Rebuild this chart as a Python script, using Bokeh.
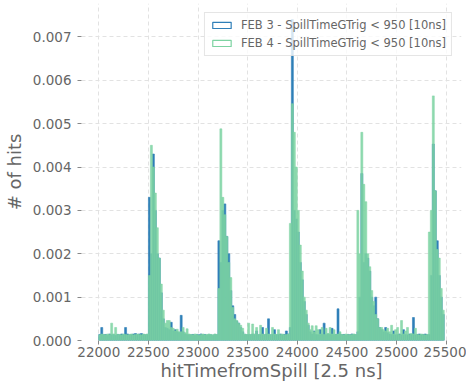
import numpy as np
from bokeh.plotting import figure
from bokeh.models import (Range1d, FixedTicker, NumeralTickFormatter, Legend,
                          LegendItem, ColumnDataSource)
from bokeh.embed import file_html
from bokeh.resources import INLINE

# ---------------- data ----------------
bin_start = 22000          # first bin edge [2.5 ns]
bin_width = 20             # bin width [2.5 ns]
value_unit = 1e-5          # values below are given in units of 1e-5 hits

series_names = ["FEB 3 - SpillTimeGTrig < 950 [10ns]",
                "FEB 4 - SpillTimeGTrig < 950 [10ns]"]

feb3_hits = [
    14, 30, 13, 14, 12, 15, 13, 14, 12, 14,
    13, 15, 14, 30, 15, 13, 14, 15, 16, 14,
    15, 16, 14, 13, 14, 330, 200, 430, 300, 200,
    190, 110, 50, 30, 28, 25, 42, 22, 25, 20,
    18, 58, 20, 15, 14, 13, 13, 14, 12, 14,
    13, 15, 13, 14, 12, 14, 13, 12, 14, 13,
    230, 180, 300, 315, 240, 200, 115, 80, 60, 45,
    40, 30, 20, 14, 13, 14, 13, 15, 14, 22,
    13, 14, 30, 13, 15, 50, 13, 14, 25, 13,
    14, 15, 13, 14, 22, 15, 30, 740, 300, 280,
    250, 180, 140, 90, 60, 35, 20, 15, 22, 14,
    13, 25, 14, 40, 13, 15, 14, 28, 13, 14,
    73, 15, 13, 14, 12, 14, 13, 15, 14, 13,
    20, 100, 385, 180, 200, 190, 160, 100, 80, 100,
    50, 30, 25, 20, 30, 18, 15, 14, 22, 13,
    14, 15, 13, 25, 14, 13, 15, 14, 53, 13,
    14, 15, 13, 14, 15, 13, 14, 150, 453, 345,
    230, 150, 100, 60,
]

feb4_hits = [
    13, 15, 14, 13, 15, 14, 40, 15, 30, 14,
    14, 13, 15, 14, 13, 14, 15, 13, 14, 15,
    14, 13, 15, 14, 15, 150, 450, 400, 340, 260,
    190, 130, 70, 40, 46, 46, 30, 28, 22, 26,
    20, 20, 30, 18, 27, 15, 14, 13, 15, 14,
    12, 14, 15, 13, 14, 15, 14, 13, 15, 14,
    120, 488, 330, 290, 240, 180, 145, 76, 50, 46,
    40, 35, 28, 15, 14, 40, 14, 38, 15, 30,
    14, 35, 15, 14, 28, 15, 14, 30, 15, 14,
    25, 14, 15, 13, 14, 15, 270, 546, 480, 400,
    300, 220, 160, 100, 70, 40, 25, 34, 20, 34,
    25, 15, 30, 14, 28, 16, 30, 15, 25, 14,
    15, 20, 14, 13, 15, 14, 13, 14, 15, 14,
    300, 200, 480, 360, 320, 200, 170, 115, 90, 60,
    50, 30, 30, 25, 22, 28, 20, 35, 15, 25,
    30, 14, 46, 15, 22, 30, 14, 16, 15, 28,
    14, 13, 15, 14, 13, 14, 250, 300, 564, 345,
    210, 190, 120, 70,
]

x_ticks = [22000, 22500, 23000, 23500, 24000, 24500, 25000, 25500]
y_ticks = [0.0, 0.001, 0.002, 0.003, 0.004, 0.005, 0.006, 0.007]
x_label = "hitTimefromSpill [2.5 ns]"
y_label = "# of hits"

# ---------------- styling ----------------
BLUE = "#2f7fb8"
GREEN = "#7dd3a2"
TEXT = "#666666"
FONT = "DejaVu Sans"

n = len(feb3_hits)
left = bin_start + bin_width * np.arange(n)
right = left + bin_width
data_lo, data_hi = left[0], right[-1]
pad = 0.05 * (data_hi - data_lo)
ymax = max(max(feb3_hits), max(feb4_hits)) * value_unit * 1.05

p = figure(width=466, height=383,
           x_range=Range1d(data_lo - pad, data_hi + pad),
           y_range=Range1d(0, ymax),
           output_backend="svg", toolbar_location=None,
           min_border_left=78, min_border_right=5,
           min_border_top=3, min_border_bottom=43)
p.background_fill_color = "white"
p.border_fill_color = "white"
p.outline_line_color = None

src3 = ColumnDataSource(dict(left=left, right=right,
                             top=np.array(feb3_hits) * value_unit))
src4 = ColumnDataSource(dict(left=left, right=right,
                             top=np.array(feb4_hits) * value_unit))

p.quad(left="left", right="right", bottom=0, top="top", source=src3,
       fill_color=BLUE, line_color=BLUE, line_width=0.6)
p.quad(left="left", right="right", bottom=0, top="top", source=src4,
       fill_color=GREEN, fill_alpha=0.85, line_color=GREEN, line_alpha=0.85,
       line_width=0.6)

# legend handles: outlined rectangles (step-histogram style)
h3 = p.quad(left=[np.nan], right=[np.nan], bottom=[np.nan], top=[np.nan],
            fill_alpha=0, line_color=BLUE, line_width=1.2)
h4 = p.quad(left=[np.nan], right=[np.nan], bottom=[np.nan], top=[np.nan],
            fill_alpha=0, line_color=GREEN, line_width=1.2)

legend = Legend(items=[LegendItem(label=series_names[0], renderers=[h3]),
                       LegendItem(label=series_names[1], renderers=[h4])],
                location="top_right", margin=9, padding=5, spacing=4,
                glyph_width=23, glyph_height=8, label_standoff=8,
                label_text_font=FONT, label_text_font_size="11.5px",
                label_text_color=TEXT, background_fill_color="white",
                background_fill_alpha=0.8, border_line_color="#cccccc",
                border_line_width=1)
p.add_layout(legend)

for ax in (p.xaxis, p.yaxis):
    ax.axis_line_color = None
    ax.major_tick_line_color = "#888888"
    ax.major_tick_out = 4
    ax.major_tick_in = 0
    ax.minor_tick_line_color = None
    ax.major_label_text_font = FONT
    ax.major_label_text_font_size = "13.5px"
    ax.major_label_text_color = TEXT
    ax.axis_label_text_font = FONT
    ax.axis_label_text_font_size = "18px"
    ax.axis_label_text_font_style = "normal"
    ax.axis_label_text_color = TEXT

p.xaxis.ticker = FixedTicker(ticks=x_ticks)
p.yaxis.ticker = FixedTicker(ticks=y_ticks)
p.yaxis.formatter = NumeralTickFormatter(format="0.000")
p.xaxis.axis_label = x_label
p.yaxis.axis_label = y_label
p.xaxis.major_label_standoff = 2
p.xaxis.axis_label_standoff = 0
p.yaxis.major_label_standoff = 6
p.yaxis.axis_label_standoff = 5

for g in (p.xgrid, p.ygrid):
    g.grid_line_color = "#e2e2e2"
    g.grid_line_dash = "4 3"
    g.grid_line_width = 1

open("out.html", "w").write(file_html(p, INLINE))
